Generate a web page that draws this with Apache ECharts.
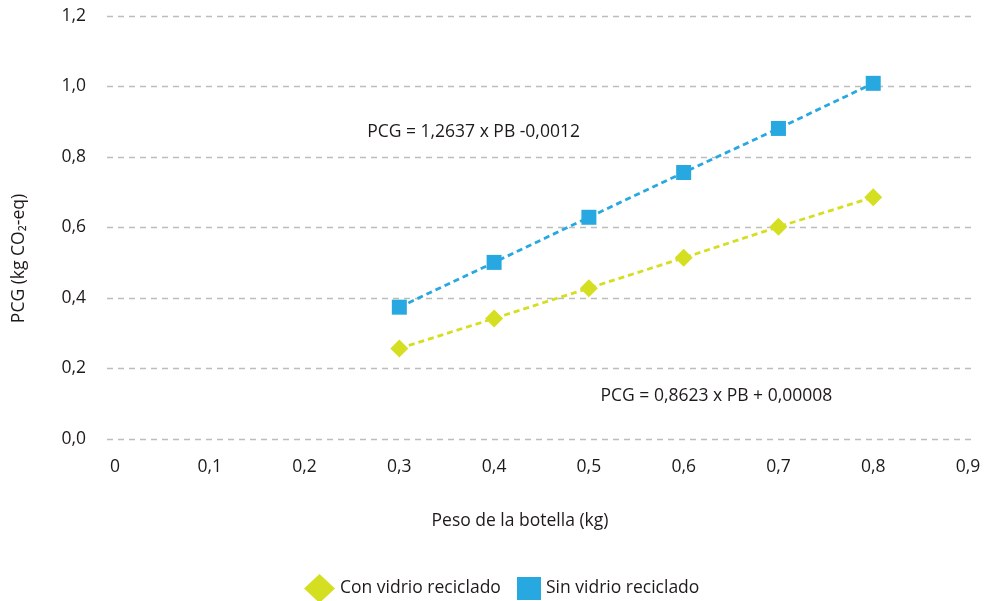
<!DOCTYPE html>
<html><head><meta charset="utf-8">
<script src="https://cdn.jsdelivr.net/npm/echarts@6/dist/echarts.min.js"></script>
<style>html,body{margin:0;padding:0;background:#fff}#c{width:990px;height:601px}</style>
</head><body><div id="c"></div>
<script>
const pesos = [0.3, 0.4, 0.5, 0.6, 0.7, 0.8];
const conVidrio = [0.257, 0.342, 0.428, 0.514, 0.602, 0.686];
const sinVidrio = [0.374, 0.501, 0.629, 0.756, 0.881, 1.009];
const seriesNames = ['Con vidrio reciclado', 'Sin vidrio reciclado'];
const xTickLabels = ['0', '0,1', '0,2', '0,3', '0,4', '0,5', '0,6', '0,7', '0,8', '0,9'];
const yTickLabels = ['0,0', '0,2', '0,4', '0,6', '0,8', '1,0', '1,2'];
const eqSin = 'PCG = 1,2637 x PB -0,0012';
const eqCon = 'PCG = 0,8623 x PB + 0,00008';

const green = '#d5df22', blue = '#27a8e0', txt = '#1e1a1b';
const font = '"Open Sans", "Noto Sans", sans-serif';
const fs = 17.5, fw = 500;
const chart = echarts.init(document.getElementById('c'));
chart.setOption({
  animation: false,
  textStyle: { fontFamily: font },
  grid: [
    { left: 115, right: 22, top: 16, bottom: 162 },
    { left: 107, right: 18, top: 16, bottom: 162 }
  ],
  xAxis: [{
    type: 'value', min: 0, max: 0.9, interval: 0.1, gridIndex: 0,
    axisLine: { show: false }, axisTick: { show: false }, splitLine: { show: false },
    axisLabel: { color: txt, fontSize: fs, fontWeight: fw, margin: 19, fontFamily: font,
      formatter: v => xTickLabels[Math.round(v * 10)] },
    name: 'Peso de la botella (kg)', nameLocation: 'middle', nameGap: 73,
    nameTextStyle: { color: txt, fontSize: fs, fontWeight: fw, fontFamily: font, padding: [0, 43, 0, 0] }
  }, {
    type: 'value', min: 0, max: 1, gridIndex: 1, show: false
  }],
  yAxis: [{
    type: 'value', min: 0, max: 1.2, interval: 0.2, gridIndex: 0,
    axisLine: { show: false }, axisTick: { show: false }, splitLine: { show: false },
    axisLabel: { color: txt, fontSize: fs, fontWeight: fw, margin: 29, fontFamily: font,
      formatter: v => yTickLabels[Math.round(v * 5)] },
    name: 'PCG (kg CO\u2082-eq)', nameLocation: 'middle', nameGap: 87,
    nameTextStyle: { color: txt, fontSize: fs, fontWeight: fw, fontFamily: font, padding: [0, 62, 0, 0] }
  }, {
    type: 'value', min: 0, max: 1.2, interval: 0.2, gridIndex: 1,
    axisLine: { show: false }, axisTick: { show: false }, axisLabel: { show: false },
    splitLine: { show: true, lineStyle: { color: '#bdbdbd', type: [6, 5], width: 1.3 } }
  }],
  legend: [{
    data: [{ name: seriesNames[0], icon: 'diamond' }],
    left: 299, top: 569, itemWidth: 31, itemHeight: 29, itemGap: 4,
    textStyle: { color: txt, fontSize: fs, fontWeight: fw, fontFamily: font }
  }, {
    data: [{ name: seriesNames[1], icon: 'rect' }],
    left: 512, top: 572, itemWidth: 24, itemHeight: 23, itemGap: 8,
    textStyle: { color: txt, fontSize: fs, fontWeight: fw, fontFamily: font }
  }],
  series: [{
    name: seriesNames[0], type: 'line', xAxisIndex: 0, yAxisIndex: 0,
    data: pesos.map((p, i) => [p, conVidrio[i]]),
    symbol: 'diamond', symbolSize: 18,
    itemStyle: { color: green },
    lineStyle: { color: green, type: [6, 4], width: 2.8 },
    markPoint: {
      symbol: 'rect', symbolSize: 1, itemStyle: { color: 'transparent' },
      label: { show: true, formatter: eqCon, color: txt, fontSize: fs, fontWeight: fw, fontFamily: font },
      data: [{ coord: [0.6345, 0.122] }]
    }
  }, {
    name: seriesNames[1], type: 'line', xAxisIndex: 0, yAxisIndex: 0,
    data: pesos.map((p, i) => [p, sinVidrio[i]]),
    symbol: 'rect', symbolSize: 15,
    itemStyle: { color: blue },
    lineStyle: { color: blue, type: [6, 4], width: 2.8 },
    markPoint: {
      symbol: 'rect', symbolSize: 1, itemStyle: { color: 'transparent' },
      label: { show: true, formatter: eqSin, color: txt, fontSize: fs, fontWeight: fw, fontFamily: font },
      data: [{ coord: [0.3783, 0.872] }]
    }
  }]
});
</script></body></html>
